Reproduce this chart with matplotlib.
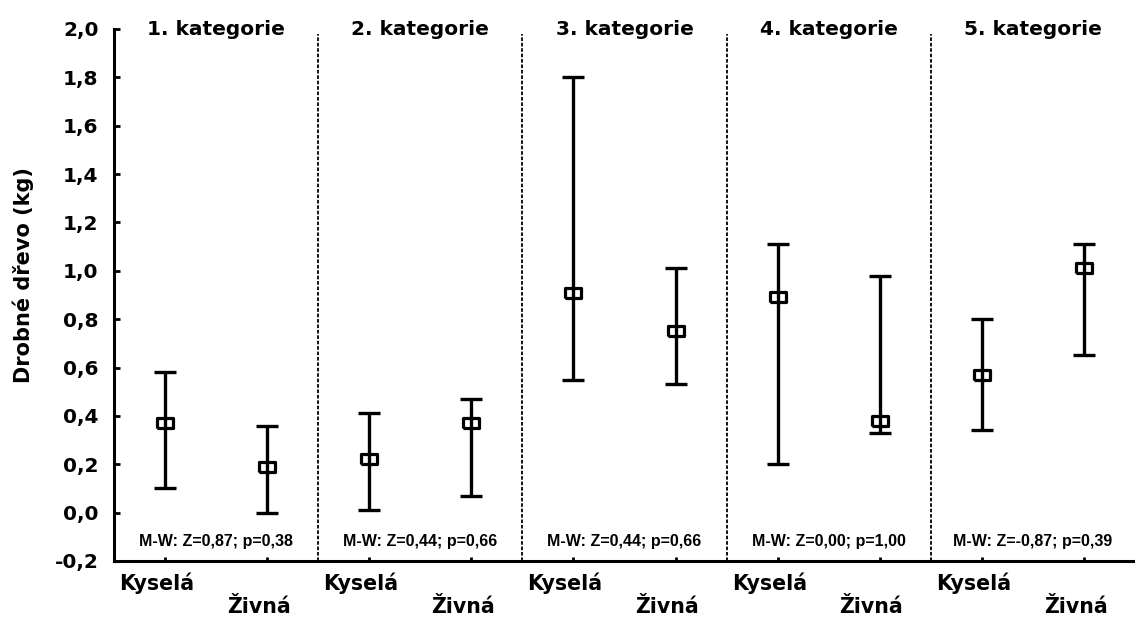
import matplotlib
matplotlib.use("Agg")
import matplotlib.pyplot as plt
import numpy as np

# Median and range of fine wood mass per category and site type
categories = ["1. kategorie", "2. kategorie", "3. kategorie", "4. kategorie", "5. kategorie"]
groups = ["Kyselá", "Živná"]

median_kysela = [0.37, 0.22, 0.91, 0.89, 0.57]
low_kysela = [0.10, 0.01, 0.55, 0.20, 0.34]
high_kysela = [0.58, 0.41, 1.80, 1.11, 0.80]

median_zivna = [0.19, 0.37, 0.75, 0.38, 1.01]
low_zivna = [0.00, 0.07, 0.53, 0.33, 0.65]
high_zivna = [0.36, 0.47, 1.01, 0.98, 1.11]

mw_z = ["0,87", "0,44", "0,44", "0,00", "-0,87"]
mw_p = ["0,38", "0,66", "0,66", "1,00", "0,39"]

y_ticks = [-0.2, 0.0, 0.2, 0.4, 0.6, 0.8, 1.0, 1.2, 1.4, 1.6, 1.8, 2.0]

WIDE = "DejaVu Sans"
PLAIN = "Liberation Sans"

fig = plt.figure(figsize=(11.35, 6.19), dpi=100)
ax = fig.add_axes([0.1004, 0.0937, 0.8996, 0.8595])

n_cat = len(categories)
ax.set_xlim(0, 2 * n_cat)
ax.set_ylim(-0.2, 2.0)

# open rectangular marker (slightly wider than tall)
box = [(-0.75, -0.5), (0.75, -0.5), (0.75, 0.5), (-0.75, 0.5), (-0.75, -0.5)]

series = [
    (median_kysela, low_kysela, high_kysela),
    (median_zivna, low_zivna, high_zivna),
]
for j, (med, lo, hi) in enumerate(series):
    med = np.asarray(med)
    lo = np.asarray(lo)
    hi = np.asarray(hi)
    x = np.arange(n_cat) * 2 + 0.5 + j
    ax.errorbar(x, med, yerr=[med - lo, hi - med], fmt="none",
                ecolor="black", elinewidth=2.4, capsize=7.8, capthick=2.4,
                zorder=3)
    ax.plot(x, med, linestyle="none", marker=box, markersize=11.5,
            markerfacecolor="none", markeredgecolor="black",
            markeredgewidth=2.3, zorder=4)

# panel separators
for b in range(1, n_cat):
    ax.vlines(2 * b, -0.2, 1.98, colors="black", linewidth=1.3,
              linestyles=(0, (2.0, 1.0)), zorder=2)

# panel titles and test results
for i, cat in enumerate(categories):
    cx = 2 * i + 1
    ax.text(cx, 1.975, cat, ha="center", va="baseline", fontsize=14.5,
            fontweight="bold", family=WIDE, clip_on=False)
    ax.text(cx, -0.14, f"M-W: Z={mw_z[i]}; p={mw_p[i]}", ha="center",
            va="baseline", fontsize=11.5, fontweight="bold", family=PLAIN)

# x tick marks with staggered group labels
xt = [2 * i + 0.5 + j for i in range(n_cat) for j in range(len(groups))]
ax.set_xticks(xt)
ax.set_xticklabels([])
ax.tick_params(axis="x", direction="in", length=3, width=2, color="black")
for i in range(n_cat):
    for j, g in enumerate(groups):
        ax.annotate(g, xy=(2 * i + 0.5 + j, -0.2), xycoords="data",
                    xytext=(-6, -21 if j == 0 else -37.5),
                    textcoords="offset points", ha="center", va="baseline",
                    fontsize=14.8, fontweight="bold", family=WIDE,
                    annotation_clip=False)

ax.set_yticks(y_ticks)
ax.set_yticklabels([f"{v:.1f}".replace(".", ",") for v in y_ticks],
                   fontsize=14.5, fontweight="bold", family=WIDE)
ax.tick_params(axis="y", direction="in", length=4, width=2, pad=11,
               color="black")

ax.set_ylabel("Drobné dřevo (kg)", fontsize=15, fontweight="bold",
              family=WIDE, va="center")
ax.yaxis.set_label_coords(-0.089, 0.537)

for side in ("top", "right"):
    ax.spines[side].set_visible(False)
for side in ("left", "bottom"):
    ax.spines[side].set_linewidth(2.2)
    ax.spines[side].set_color("black")

fig.savefig("out.png", dpi=100, facecolor="white")
